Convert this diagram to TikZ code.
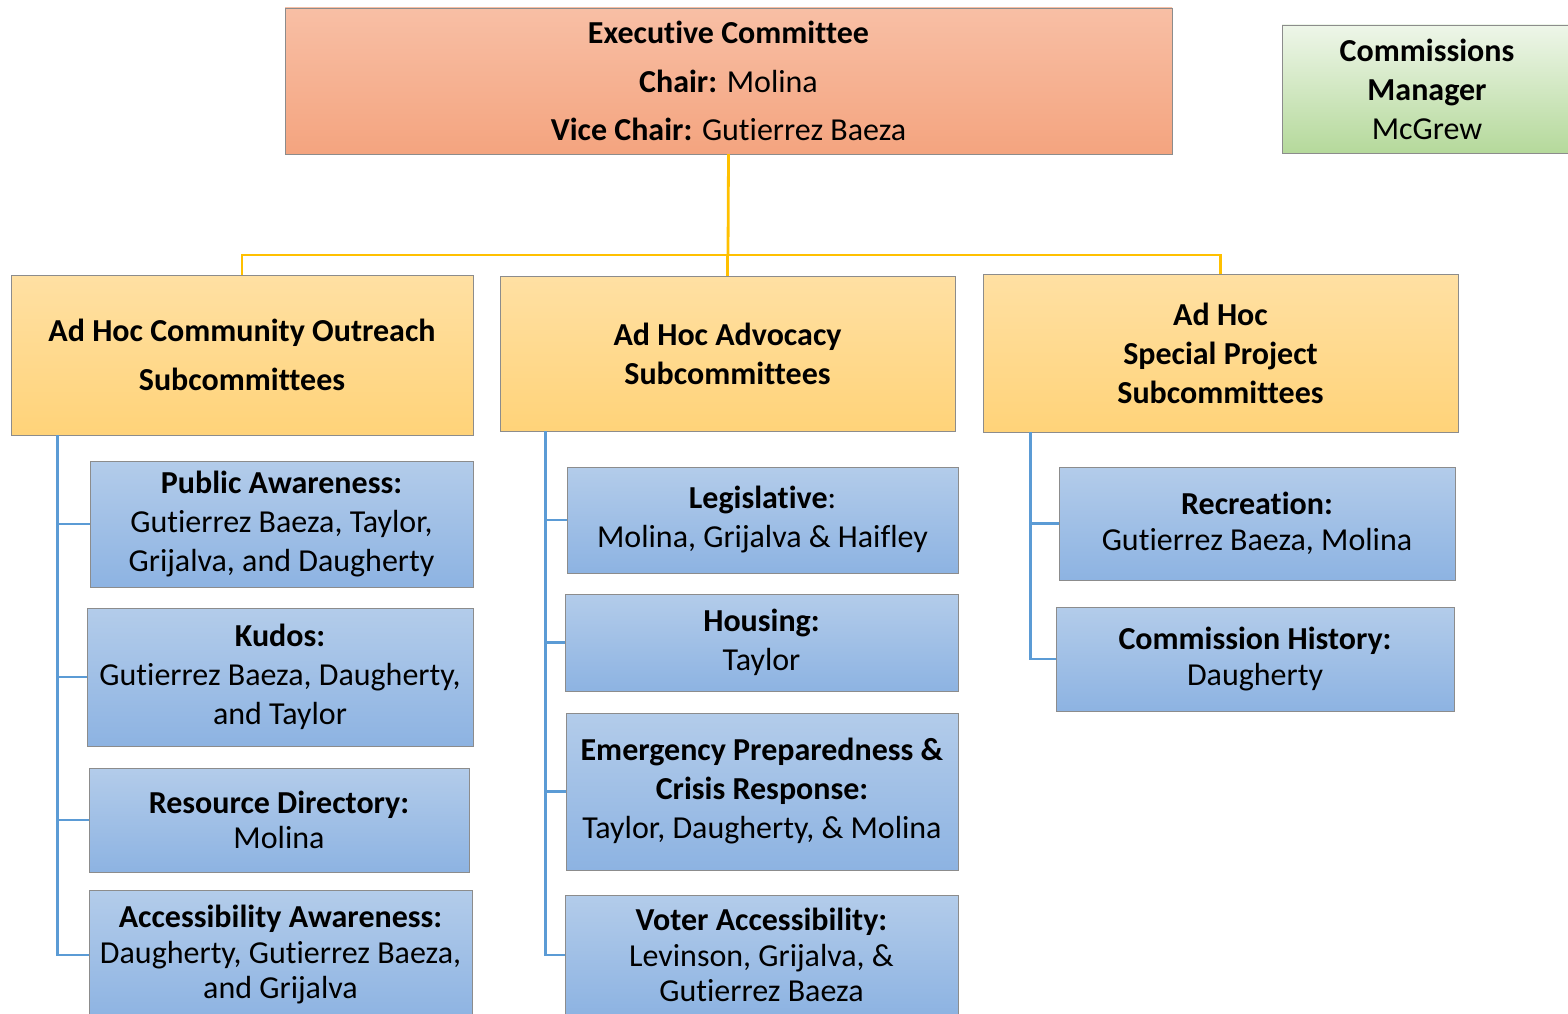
\documentclass[tikz,border=0pt]{standalone}
\usepackage{fontspec}
\setmainfont{Carlito}[Ligatures=NoCommon]
\usepackage{tikz}
\usepackage{xcolor}
\definecolor{ExecTop}{HTML}{F8BFA5}
\definecolor{ExecBottom}{HTML}{F4A47F}
\definecolor{MgrTop}{HTML}{EEF6E9}
\definecolor{MgrBottom}{HTML}{B5D99B}
\definecolor{AdHocTop}{HTML}{FFE0A3}
\definecolor{AdHocBottom}{HTML}{FFD379}
\definecolor{SubTop}{HTML}{B3CCEA}
\definecolor{SubBottom}{HTML}{8DB3E2}
\definecolor{BoxLine}{HTML}{8C8C8C}
\definecolor{GoldLink}{HTML}{FFC000}
\definecolor{BlueLink}{HTML}{5B9BD5}
\newcommand{\wideLines}{\fontsize{32}{48.5}\selectfont}
\newcommand{\midLines}{\fontsize{32}{39}\selectfont}
\newcommand{\tightLines}{\fontsize{32}{35.5}\selectfont}
\tikzstyle{execBlock}=[draw=BoxLine,top color=ExecTop,bottom color=ExecBottom,align=center,inner sep=0pt]
\tikzstyle{mgrBlock}=[draw=BoxLine,top color=MgrTop,bottom color=MgrBottom,align=center,inner sep=0pt]
\tikzstyle{adHocBlock}=[draw=BoxLine,top color=AdHocTop,bottom color=AdHocBottom,align=center,inner sep=0pt]
\tikzstyle{subBlock}=[draw=BoxLine,top color=SubTop,bottom color=SubBottom,align=center,inner sep=0pt,
    execute at begin node={\rule{0pt}{37pt}}]
\tikzstyle{goldTransition}=[GoldLink, line width=2.8pt]
\tikzstyle{blueTransition}=[BlueLink, line width=2.8pt]

\begin{document}
\begin{tikzpicture}[x=1pt,y=-1pt]
    \useasboundingbox (0,0) rectangle (1568,1014);

    % Top level
    \node[execBlock, font=\wideLines, minimum width=887pt, minimum height=146pt] (exec) at (728.5,81)
        {\textbf{Executive Committee}\\\textbf{Chair:} Molina\\\textbf{Vice Chair:} Gutierrez Baeza};
    \node[mgrBlock, font=\midLines, minimum width=290pt, minimum height=128pt] (mgr) at (1427,89)
        {\textbf{Commissions}\\\textbf{Manager}\\McGrew};

    % Ad hoc groups
    \node[adHocBlock, font=\wideLines, minimum width=462pt, minimum height=160pt] (outreach) at (242,355)
        {\textbf{Ad Hoc Community Outreach}\\\textbf{Subcommittees}};
    \node[adHocBlock, font=\midLines, minimum width=455pt, minimum height=155pt] (advocacy) at (727.5,353.5)
        {\textbf{Ad Hoc Advocacy}\\\textbf{Subcommittees}};
    \node[adHocBlock, font=\midLines, minimum width=475pt, minimum height=158pt] (special) at (1220.5,353)
        {\textbf{Ad Hoc}\\\textbf{Special Project}\\\textbf{Subcommittees}};

    \coordinate (bus) at (728,255);
	\draw[goldTransition] (exec.south) -- (bus);
	\draw[goldTransition] (bus) -| (outreach.north);
	\draw[goldTransition] (bus) -| (special.north);
	\draw[goldTransition] (bus) -| (advocacy.north);

    % Community outreach
    \node[subBlock, font=\midLines, minimum width=383pt, minimum height=126pt] (publicAw) at (281.5,524)
        {\textbf{Public Awareness:}\\Gutierrez Baeza, Taylor,\\Grijalva, and Daugherty};
    \node[subBlock, font=\midLines, minimum width=386pt, minimum height=138pt] (kudos) at (280,677)
        {\textbf{Kudos:}\\Gutierrez Baeza, Daugherty,\\and Taylor};
    \node[subBlock, font=\tightLines, minimum width=380pt, minimum height=104pt] (resource) at (279,820)
        {\textbf{Resource Directory:}\\Molina};
    \node[subBlock, font=\tightLines, minimum width=383pt, minimum height=130pt] (access) at (280.5,955)
        {\textbf{Accessibility Awareness:}\\Daugherty, Gutierrez Baeza,\\and Grijalva};

    \coordinate (outreachTrunk) at ([xshift=47pt]outreach.south west);
	\draw[blueTransition] (outreachTrunk) |- (access.west);
	\draw[blueTransition] (outreachTrunk) |- (publicAw.west);
	\draw[blueTransition] (outreachTrunk) |- (kudos.west);
	\draw[blueTransition] (outreachTrunk) |- (resource.west);

    % Advocacy
    \node[subBlock, font=\midLines, minimum width=391pt, minimum height=106pt] (legis) at (762.5,520)
        {\textbf{Legislative}:\\Molina, Grijalva \& Haifley};
    \node[subBlock, font=\midLines, minimum width=393pt, minimum height=97pt] (housing) at (761.5,642.5)
        {\textbf{Housing:}\\Taylor};
    \node[subBlock, font=\midLines, minimum width=392pt, minimum height=157pt] (emerg) at (762,791.5)
        {\textbf{Emergency Preparedness \&}\\\textbf{Crisis Response:}\\Taylor, Daugherty, \& Molina};
    \node[subBlock, font=\tightLines, minimum width=393pt, minimum height=120pt] (voter) at (761.5,955)
        {\textbf{Voter Accessibility:}\\Levinson, Grijalva, \&\\Gutierrez Baeza};

    \coordinate (advocacyTrunk) at ([xshift=46pt]advocacy.south west);
	\draw[blueTransition] (advocacyTrunk) |- (voter.west);
	\draw[blueTransition] (advocacyTrunk) |- (legis.west);
	\draw[blueTransition] (advocacyTrunk) |- (housing.west);
	\draw[blueTransition] (advocacyTrunk) |- (emerg.west);

    % Special projects
    \node[subBlock, font=\tightLines, minimum width=396pt, minimum height=113pt] (recreation) at (1257,523.5)
        {\textbf{Recreation:}\\Gutierrez Baeza, Molina};
    \node[subBlock, font=\tightLines, minimum width=398pt, minimum height=104pt] (history) at (1255,659)
        {\textbf{Commission History:}\\Daugherty};

    \coordinate (specialTrunk) at ([xshift=48pt]special.south west);
	\draw[blueTransition] (specialTrunk) |- (history.west);
	\draw[blueTransition] (specialTrunk) |- (recreation.west);

\end{tikzpicture}
\end{document}
